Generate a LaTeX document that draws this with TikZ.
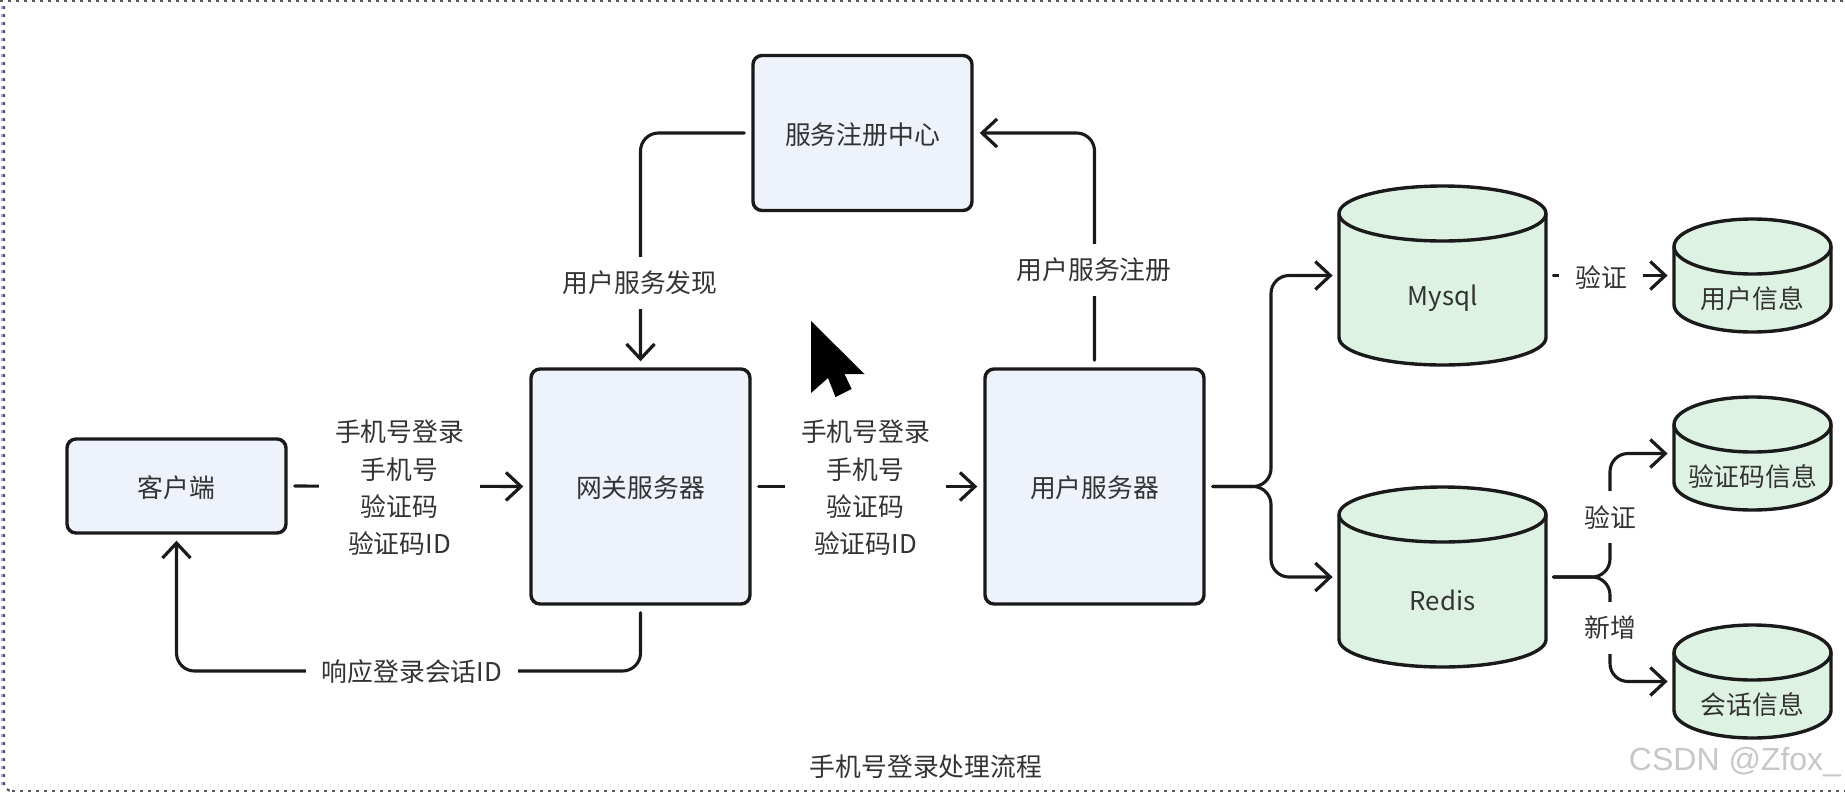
\documentclass[tikz,border=0pt]{standalone}
\usepackage{fontspec}
\setmainfont{Noto Sans CJK SC}
\newfontfamily\wmfont{Liberation Sans}
\usetikzlibrary{arrows.meta}
\definecolor{boxfill}{HTML}{EEF2FB}
\definecolor{dbfill}{HTML}{DDF2E3}
\definecolor{ink}{HTML}{1A1A1A}
\definecolor{txt}{HTML}{333333}
\newcommand{\lowered}[1]{\raisebox{-0.8pt}[\height][\depth]{#1}}
\tikzset{
  every node/.style={font=\fontsize{12.9}{18.7}\selectfont,text=txt},
  svcbox/.style={draw=ink,fill=boxfill,line width=1.7pt,rounded corners=4.5pt,inner sep=0pt},
  conn/.style={draw=ink,line width=1.55pt,rounded corners=9pt,line cap=round,shorten <=3.5pt,shorten >=3pt},
  arrowed/.style={conn,-{Straight Barb[length=7.5pt,width=14pt,line width=1.6pt]}},
  gaplabel/.style={fill=white,inner xsep=8pt,inner ysep=7pt,align=center},
  dbline/.style={draw=ink,line width=1.7pt},
  dbanchor/.style={inner sep=0pt,draw=none},
  dots/.style={draw=#1,line width=1.1pt,dash pattern=on 1.6pt off 2.4pt},
}
% name, centre x, centre y, width, height, text
\newcommand{\dbcyl}[6]{%
  \path[dbline,fill=dbfill]
    (#2-#4/2,#3-#5/2+27.5) arc[start angle=180,end angle=360,x radius=#4/2,y radius=27.5]
    -- (#2+#4/2,#3+#5/2-27.5) arc[start angle=0,end angle=180,x radius=#4/2,y radius=27.5]
    -- cycle;
  \draw[dbline] (#2-#4/2,#3-#5/2+27.5) arc[start angle=180,end angle=0,x radius=#4/2,y radius=27.5];
  \node[dbanchor,minimum width=#4*0.5pt,minimum height=#5*0.5pt] (#1) at (#2,#3) {};
  \node (#1-text) at (#2,#3+23) {#6};
}
\begin{document}
\begin{tikzpicture}[x=0.5pt,y=-0.5pt]
\useasboundingbox (0,0) rectangle (1845,793);
% frame
\draw[dots=blue!35!white,line width=2pt] (3,6) -- (3,786);
\draw[dots=black!65] (4,6) -- (4,783) arc[start angle=180,end angle=90,radius=8] -- (12,791);
\draw[dots=black!65] (12,791) -- (1845,791);
\draw[dots=black!65] (0,1) -- (1845,1);
% services
\node[svcbox,minimum width=109.5pt,minimum height=47pt] (client) at (176.5,486) {\lowered{客户端}};
\node[svcbox,minimum width=109.5pt,minimum height=117.5pt] (gw) at (640.5,486.5) {\lowered{网关服务器}};
\node[svcbox,minimum width=109.5pt,minimum height=117.5pt] (uss) at (1094.5,486.5) {\lowered{用户服务器}};
\node[svcbox,minimum width=109.5pt,minimum height=77.5pt] (reg) at (862.5,133) {\lowered{服务注册中心}};
% stores
\dbcyl{mysql}{1442.5}{275.5}{207}{179}{Mysql}
\dbcyl{redis}{1442.5}{577}{207}{180}{Redis}
\dbcyl{uinfo}{1752.5}{275.5}{157}{113}{用户信息}
\dbcyl{cinfo}{1752.5}{453.5}{157}{113}{验证码信息}
\dbcyl{sinfo}{1752.5}{681.5}{157}{113}{会话信息}
% routing coordinates
\coordinate (retY) at (0,671);
\coordinate (busA) at (1271,0);
\coordinate (busB) at (1610,0);
% connectors
\draw[arrowed] (client.east) -- (gw.west);
\draw[arrowed] (gw.east) -- (uss.west);
\draw[arrowed] (gw.south) -- (gw.south |- retY) -- (client.south |- retY) -- (client.south);
\draw[arrowed] (reg.west) -- (reg.west -| gw.north) -- (gw.north);
\draw[arrowed] (uss.north) -- (uss.north |- reg.east) -- (reg.east);
\draw[arrowed] (uss.east) -- (busA |- uss.east) -- (busA |- mysql.west) -- (mysql.west);
\draw[arrowed] (uss.east) -- (busA |- uss.east) -- (busA |- redis.west) -- (redis.west);
\draw[arrowed] (mysql.east) -- (uinfo.west);
\draw[arrowed] (redis.east) -- (busB |- redis.east) -- (busB |- cinfo.west) -- (cinfo.west);
\draw[arrowed] (redis.east) -- (busB |- redis.east) -- (busB |- sinfo.west) -- (sinfo.west);
% connector labels
\node[gaplabel] (l1) at (399.5,488) {手机号登录\\手机号\\验证码\\验证码ID};
\node[gaplabel] (l2) at (865.5,488) {手机号登录\\手机号\\验证码\\验证码ID};
\node[gaplabel] (l3) at (412,672) {响应登录会话ID};
\node[gaplabel] (l4) at (640,283) {用户服务发现};
\node[gaplabel] (l5) at (1094,270) {用户服务注册};
\node[gaplabel] (l6) at (1601,277) {验证};
\node[gaplabel] (l7) at (1610,517) {验证};
\node[gaplabel] (l8) at (1610,628) {新增};
% caption
\node (cap) at (926,767) {手机号登录处理流程};
\node[font=\wmfont\fontsize{16}{18}\selectfont,text=black!22] (wm) at (1735,762) {CSDN @Zfox\_};
% mouse pointer
\fill[black] (811,321) -- (811,393) -- (828,378) -- (835.5,397) -- (851.6,389) -- (844.5,374) -- (864.5,374) -- cycle;
\end{tikzpicture}
\end{document}
